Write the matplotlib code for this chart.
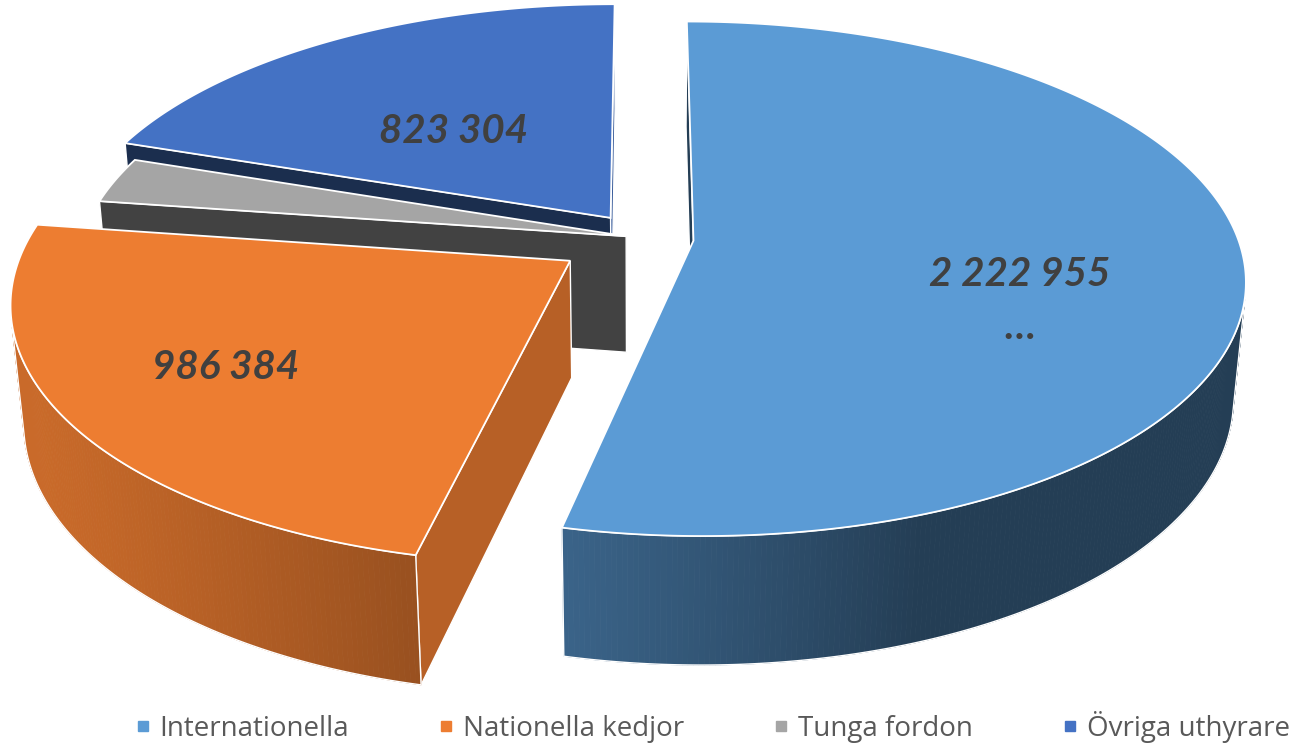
import numpy as np
import matplotlib.pyplot as plt
from matplotlib.patches import Polygon
from matplotlib.lines import Line2D
from matplotlib.colors import to_rgb

# data
categories = ['Internationella', 'Nationella kedjor', 'Tunga fordon', 'Övriga uthyrare']
values = [2222955, 986384, 120000, 823304]
labels = ['2 222 955\n…', '986 384', '', '823 304']
colors = ['#5B9BD5', '#ED7D31', '#A5A5A5', '#4472C4']

# layout / view
explode = [0.095, 0.158, 0.03, 0.1]
label_pos = [(0.62, 112), (0.7, 236), None, (0.484, 320)]   # (radius, angle) in slice frame
elev = np.radians(29.5)
cam_d = 6.0
focal = 3200
thick = 0.245
cx, cy = 642, 238

cam = np.array([0, -cam_d * np.cos(elev), cam_d * np.sin(elev)])


def project(x, y, z):
    v = y * np.sin(elev) + z * np.cos(elev)
    dist = cam_d + y * np.cos(elev) - z * np.sin(elev)
    return focal * x / dist, -focal * v / dist


ox0, oy0 = project(0, 0, thick)


def to_px(x, y, z):
    sx, sy = project(np.asarray(x, float), np.asarray(y, float), np.asarray(z, float))
    return np.column_stack([cx + sx - ox0, cy + sy - oy0])


def shade(col, b):
    return tuple(np.clip(np.array(to_rgb(col)) * b, 0, 1))


def facing(n, p):
    return np.dot(n, cam - p) > 0


fig = plt.figure(figsize=(12.97, 7.44), dpi=100)
ax = fig.add_axes([0, 0, 1, 1])
ax.set_xlim(0, 1297)
ax.set_ylim(744, 0)
ax.axis('off')

vals = np.array(values, float)
edges = np.concatenate([[0], np.cumsum(vals) / vals.sum() * 360])

slices = []
for i in range(len(values)):
    a0, a1 = edges[i], edges[i + 1]
    mid = np.radians((a0 + a1) / 2)
    off = explode[i] * np.array([np.sin(mid), np.cos(mid)])
    slices.append((i, a0, a1, off))

# paint far slices first
slices.sort(key=lambda s: -(np.cos(np.radians((s[1] + s[2]) / 2)) + s[3][1]))

for i, a0, a1, off in slices:
    col = colors[i]
    th = np.radians(np.linspace(a0, a1, max(int((a1 - a0) * 2), 2) + 1))
    rx = off[0] + np.sin(th)
    ry = off[1] + np.cos(th)

    # radial walls
    for ang, sign in ((a0, -1), (a1, 1)):
        t = np.radians(ang)
        n = sign * np.array([np.cos(t), -np.sin(t), 0])
        p = np.array([off[0] + 0.5 * np.sin(t), off[1] + 0.5 * np.cos(t), thick / 2])
        if not facing(n, p):
            continue
        phi = np.arctan2(n[0], n[1])
        b = 0.40 + 0.38 * max(0, np.cos(phi - np.radians(90)))
        xs = [off[0], off[0] + np.sin(t), off[0] + np.sin(t), off[0]]
        ys = [off[1], off[1] + np.cos(t), off[1] + np.cos(t), off[1]]
        zs = [thick, thick, 0, 0]
        ax.add_patch(Polygon(to_px(xs, ys, zs), closed=True, fc=shade(col, b),
                             ec='white', lw=1.0, zorder=2))

    # outer wall, split in thin strips for the gradient
    vis = []
    for k in range(len(th) - 1):
        tm = (th[k] + th[k + 1]) / 2
        n = np.array([np.sin(tm), np.cos(tm), 0])
        p = np.array([off[0] + np.sin(tm), off[1] + np.cos(tm), thick / 2])
        if not facing(n, p):
            continue
        vis.append(k)
        b = 0.40 + 0.45 * max(0, np.cos(tm - np.radians(250)))
        xs = [rx[k], rx[k + 1], rx[k + 1], rx[k]]
        ys = [ry[k], ry[k + 1], ry[k + 1], ry[k]]
        zs = [thick, thick, 0, 0]
        c = shade(col, b)
        ax.add_patch(Polygon(to_px(xs, ys, zs), closed=True, fc=c, ec=c, lw=0.6, zorder=2))
    if vis:
        k0, k1 = vis[0], vis[-1] + 1
        top = to_px(rx[k0:k1 + 1], ry[k0:k1 + 1], np.full(k1 - k0 + 1, thick))
        bot = to_px(rx[k0:k1 + 1], ry[k0:k1 + 1], np.zeros(k1 - k0 + 1))
        ax.add_patch(Polygon(np.vstack([top, bot[::-1]]), closed=True, fill=False,
                             ec='white', lw=1.0, zorder=2))

    # top face
    xs = np.concatenate([[off[0]], rx])
    ys = np.concatenate([[off[1]], ry])
    ax.add_patch(Polygon(to_px(xs, ys, np.full(len(xs), thick)), closed=True, fc=col,
                         ec='white', lw=1.3, zorder=2))

    if labels[i] and label_pos[i]:
        r, la = label_pos[i]
        la = np.radians(la)
        pt = to_px([off[0] + r * np.sin(la)], [off[1] + r * np.cos(la)], [thick])[0]
        ax.text(pt[0], pt[1], labels[i], ha='center', va='center', color='#404040',
                fontsize=29, fontweight='bold', fontstyle='italic', family='Lato',
                linespacing=1.55, zorder=3)

handles = [Line2D([], [], ls='none', marker='s', ms=7, mfc=c, mec=c) for c in colors]
leg = ax.legend(handles, categories, loc='center', bbox_to_anchor=(712 / 1297, 1 - 727 / 744),
                ncol=4, frameon=False, prop=dict(family='Open Sans', size=20),
                handlelength=0.6, handletextpad=0.3, columnspacing=3.2)
for t in leg.get_texts():
    t.set_color('#595959')

fig.savefig('out.png', dpi=100)
